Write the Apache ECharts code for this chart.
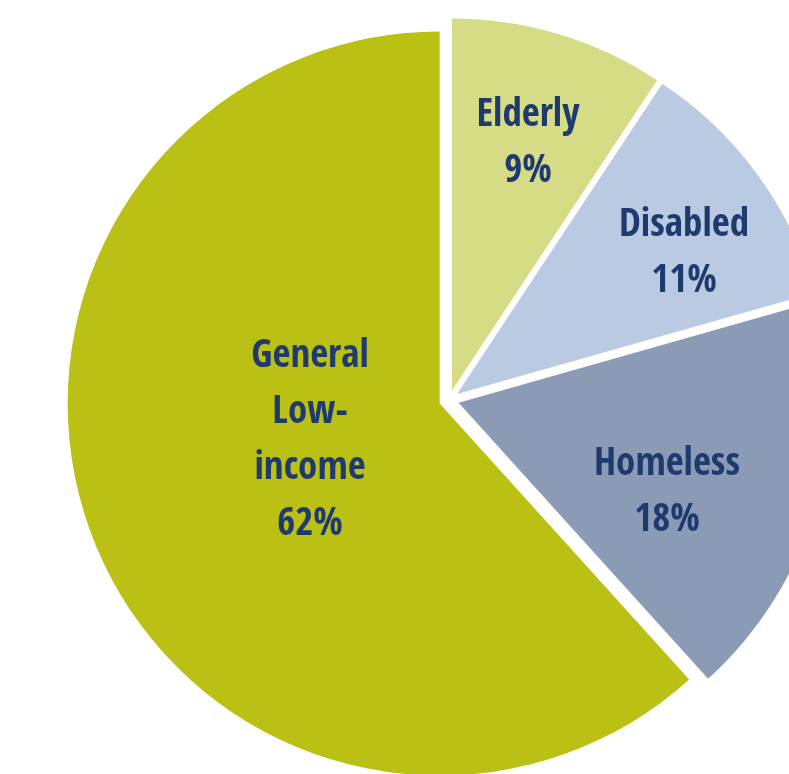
<!DOCTYPE html>
<html>
<head>
<meta charset="utf-8">
<script src="https://cdn.jsdelivr.net/npm/echarts@6/dist/echarts.min.js"></script>
<style>
html,body{margin:0;padding:0;background:#ffffff;}
#chart{width:789px;height:774px;}
</style>
</head>
<body>
<div id="chart"></div>
<script>
const categories = ['Elderly', 'Disabled', 'Homeless', 'General\nLow-\nincome'];
const values = [9.3, 11.3, 17.7, 61.7];

// Styling (not data)
const colors = ['#D6DC85', '#BACAE2', '#8B9BB6', '#BBC015'];
const labelPos = [[528, 144], [684, 254], [667, 493], [310, 441]];
const pieCenter = [449, 400];
const pieRadius = 372;
const explode = 10;

const total = values.reduce((a, b) => a + b, 0);
let cum = 0;
const midAngles = values.map(v => {
  const m = (cum + v / 2) / total * 2 * Math.PI;
  cum += v;
  return m;
});

const labelStyle = {
  show: true,
  position: 'inside',
  formatter: '{b}\n{d}%',
  color: '#1F3A6E',
  fontFamily: "'Open Sans Condensed', 'Roboto Condensed', 'DejaVu Sans Condensed', sans-serif",
  fontWeight: 'bold',
  fontSize: 39,
  lineHeight: 56,
  align: 'center',
  verticalAlign: 'middle'
};

// One pie per exploded slice: every pie holds all values so the angles
// come from the library; only its own slice is painted.
const series = categories.map((_, k) => ({
  type: 'pie',
  center: [pieCenter[0] + explode * Math.sin(midAngles[k]),
           pieCenter[1] - explode * Math.cos(midAngles[k])],
  radius: [0, pieRadius],
  startAngle: 90,
  clockwise: true,
  percentPrecision: 0,
  avoidLabelOverlap: false,
  silent: true,
  emphasis: {disabled: true},
  labelLine: {show: false},
  label: labelStyle,
  labelLayout: function (params) {
    if (params.dataIndex !== k) return {};
    const p = labelPos[k];
    return {x: p[0], y: p[1], align: 'center', verticalAlign: 'middle'};
  },
  data: categories.map((c, i) => ({
    name: c,
    value: values[i],
    itemStyle: {color: i === k ? colors[i] : 'rgba(0,0,0,0)', borderWidth: 0},
    label: {show: i === k}
  }))
}));

const chart = echarts.init(document.getElementById('chart'), null, {renderer: 'canvas'});
chart.setOption({
  animation: false,
  backgroundColor: '#ffffff',
  series: series
});
</script>
</body>
</html>
